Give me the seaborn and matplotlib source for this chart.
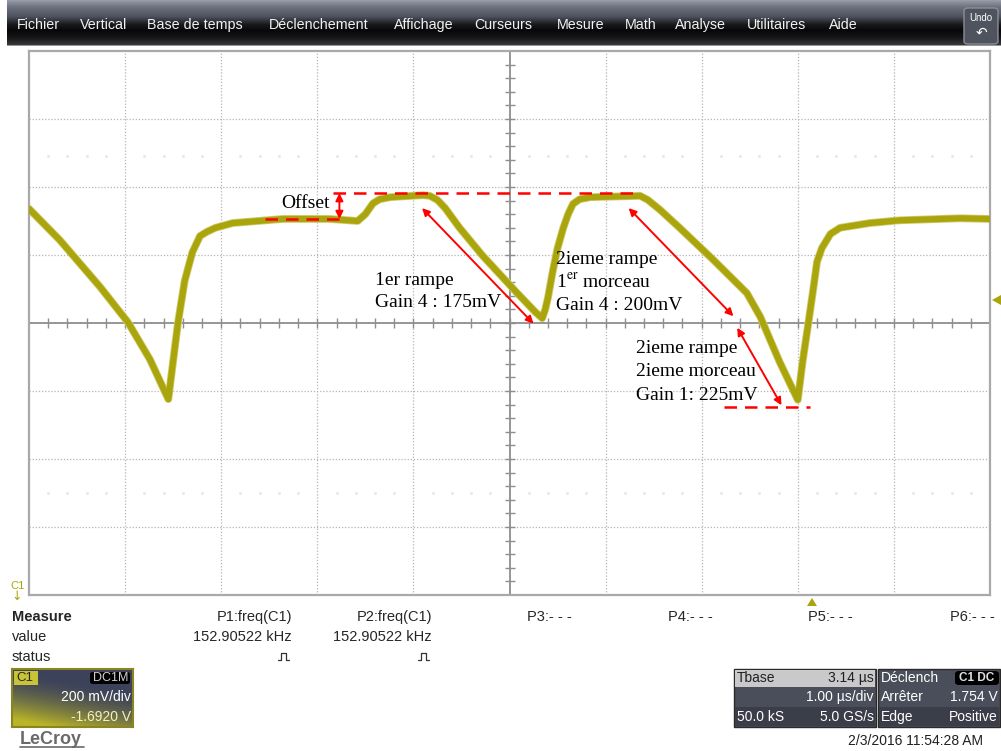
import numpy as np
import seaborn as sns
import matplotlib.pyplot as plt
from matplotlib.patches import Rectangle, FancyBboxPatch, Polygon

sns.set_style('white')
plt.rcParams['font.family'] = ['Liberation Sans', 'DejaVu Sans']
plt.rcParams['mathtext.fontset'] = 'stix'

W, H = 1001, 751

# C1 trace, in divisions (x: 0..10 div, y: -4..4 div)
t_div = [0.00, 0.32, 0.74, 1.03, 1.26, 1.45, 1.55, 1.62, 1.70, 1.78, 1.85, 1.94, 2.12,
         2.64, 3.13, 3.42, 3.50, 3.58, 3.65, 3.76, 4.10, 4.17, 4.25, 4.33, 4.48, 4.72,
         5.08, 5.27, 5.34, 5.37, 5.40, 5.45, 5.50, 5.56, 5.61, 5.66, 5.73, 5.84, 6.36,
         6.44, 6.57, 6.77, 7.12, 7.47, 7.61, 7.81, 8.00, 8.05, 8.11, 8.16, 8.20, 8.25,
         8.34, 8.44, 8.75, 9.06, 9.69, 10.0]
v_div = [1.68, 1.22, 0.53, 0.01, -0.54, -1.12, 0.00, 0.62, 1.04, 1.28, 1.34, 1.40, 1.47,
         1.53, 1.53, 1.50, 1.60, 1.76, 1.82, 1.85, 1.88, 1.87, 1.81, 1.69, 1.40, 0.99,
         0.44, 0.16, 0.07, 0.19, 0.37, 0.76, 1.10, 1.40, 1.60, 1.75, 1.82, 1.85, 1.87,
         1.81, 1.66, 1.40, 0.93, 0.44, 0.09, -0.57, -1.13, -0.57, 0.00, 0.49, 0.90, 1.10,
         1.31, 1.40, 1.47, 1.51, 1.54, 1.53]

menu_items = ['Fichier', 'Vertical', 'Base de temps', 'Déclenchement', 'Affichage',
              'Curseurs', 'Mesure', 'Math', 'Analyse', 'Utilitaires', 'Aide']
param_names = ['P1:freq(C1)', 'P2:freq(C1)', 'P3:- - -', 'P4:- - -', 'P5:- - -', 'P6:- - -']
param_values = ['152.90522 kHz', '152.90522 kHz']

# annotation levels (divisions)
offset_low, offset_high, min_level = 1.53, 1.91, -1.24

trace_col = '#aaa50c'
red = '#ff0000'


def fx(x):
    return x / W


def fy(y):
    return 1 - y / H


fig = plt.figure(figsize=(W / 100, H / 100), dpi=100)
fig.patch.set_facecolor('white')

# ---- menu bar
bar = fig.add_axes([fx(7), fy(46), 1 - fx(7), 46 / H])
rows = np.arange(46)
kr = [0, 6, 16, 24, 30, 38, 44, 45]
kc = np.array([[150, 155, 165], [110, 116, 130], [78, 82, 94], [25, 25, 28],
               [8, 8, 9], [25, 25, 27], [55, 55, 58], [150, 150, 150]]) / 255
grad = np.stack([np.interp(rows, kr, kc[:, c]) for c in range(3)], axis=1)
bar.imshow(grad[:, None, :], aspect='auto', extent=(0, 1, 0, 1))
bar.set_axis_off()
menu_x = [17, 80, 147, 269, 394, 474, 557, 625, 675, 747, 829]
for name, x in zip(menu_items, menu_x):
    fig.text(fx(x), fy(25), name, color='#f2f2f2', fontsize=10.3, va='center', ha='left')
fig.patches.append(FancyBboxPatch((fx(964), fy(44)), 34 / W, 36 / H,
                                  boxstyle='round,pad=0,rounding_size=0.004',
                                  transform=fig.transFigure, fc='#4e535e', ec='#8a8f98', lw=1))
fig.text(fx(981), fy(18), 'Undo', color='white', fontsize=7, ha='center', va='center')
fig.text(fx(981), fy(33), '↶', color='white', fontsize=10, ha='center', va='center',
         family='DejaVu Sans')

# ---- scope grid
ax = fig.add_axes([fx(29), fy(595), 961 / W, 544 / H])
ax.set_xlim(0, 10)
ax.set_ylim(-4, 4)
ax.set_xticks([])
ax.set_yticks([])
for s in ax.spines.values():
    s.set_color('#a9a9a9')
    s.set_linewidth(1.6)
for i in range(1, 10):
    if i != 5:
        ax.axvline(i, color='#b5b5b5', ls=(0, (1, 1.5)), lw=0.9, zorder=1)
for j in range(-3, 4):
    if j != 0:
        ax.axhline(j, color='#b5b5b5', ls=(0, (1, 1.5)), lw=0.9, zorder=1)
ax.axhline(0, color='#8e8e8e', lw=1.3, zorder=1)
ax.axvline(5, color='#8e8e8e', lw=1.3, zorder=1)
minor_x = np.arange(0.2, 10, 0.2)
minor_y = np.arange(-3.8, 4, 0.2)
ax.plot(minor_x, np.zeros_like(minor_x), ls='none', marker='|', ms=7, mew=1,
        color='#8e8e8e', zorder=1)
ax.plot(np.full_like(minor_y, 5), minor_y, ls='none', marker='_', ms=7, mew=1,
        color='#8e8e8e', zorder=1)
faint_x = np.array([v for v in minor_x if abs(v - round(v)) > 0.05])
for yy in (2.45, -2.5):
    ax.plot(faint_x, np.full_like(faint_x, yy), ls='none', marker='.', ms=2,
            color='#e6e6e6', zorder=1)

# trace
sns.lineplot(x=t_div, y=v_div, ax=ax, color='#cfcc70', lw=5.6, sort=False,
             estimator=None, zorder=2)
sns.lineplot(x=t_div, y=v_div, ax=ax, color=trace_col, lw=4.4, sort=False,
             estimator=None, zorder=3)

# red annotations
dash = (0, (5, 3.2))
ax.plot([2.46, 3.29], [offset_low, offset_low], color=red, lw=1.8, ls=dash, zorder=4)
ax.plot([3.16, 6.32], [offset_high, offset_high], color=red, lw=1.8, ls=dash, zorder=4)
ax.plot([7.23, 8.13], [min_level, min_level], color=red, lw=1.8, ls=dash, zorder=4)
arrow = dict(arrowstyle='<|-|>', color=red, lw=1.4, mutation_scale=11,
             shrinkA=0, shrinkB=0)
ax.annotate('', xy=(3.23, offset_low), xytext=(3.23, offset_high), arrowprops=arrow)
ax.annotate('', xy=(5.25, -0.01), xytext=(4.09, 1.69), arrowprops=arrow)
ax.annotate('', xy=(7.33, 0.10), xytext=(6.24, 1.69), arrowprops=arrow)
ax.annotate('', xy=(7.83, -1.21), xytext=(7.37, -0.07), arrowprops=arrow)

serif = dict(family='Liberation Serif', fontsize=14, color='black', va='center',
             ha='left', zorder=5)
ax.text(2.62, 1.75, 'Offset', **serif)
ax.text(3.60, 0.63, '1er rampe', **serif)
ax.text(3.60, 0.30, 'Gain 4 : 175mV', **serif)
ax.text(5.48, 0.93, '2ieme rampe', **serif)
ax.text(5.48, 0.60, r'1$^{\mathrm{er}}$ morceau', **serif)
ax.text(5.48, 0.26, 'Gain 4 : 200mV', **serif)
ax.text(6.32, -0.38, '2ieme rampe', **serif)
ax.text(6.32, -0.72, '2ieme morceau', **serif)
ax.text(6.32, -1.06, 'Gain 1: 225mV', **serif)

# markers around grid
fig.patches.append(Polygon([(fx(807), fy(606)), (fx(817), fy(606)), (fx(812), fy(598))],
                           closed=True, transform=fig.transFigure, fc=trace_col, ec='none'))
fig.patches.append(Polygon([(fx(992), fy(300)), (fx(1001), fy(295)), (fx(1001), fy(305))],
                           closed=True, transform=fig.transFigure, fc=trace_col, ec='none'))
fig.text(fx(10), fy(586), 'C1', color=trace_col, fontsize=8, va='center')
fig.text(fx(11), fy(597), '↓', color=trace_col, fontsize=9, va='center',
         family='DejaVu Sans')

# ---- measure table
fs = 10.5
fig.text(fx(12), fy(617), 'Measure', fontsize=fs, weight='bold', va='center')
fig.text(fx(12), fy(637), 'value', fontsize=fs, va='center')
fig.text(fx(12), fy(657), 'status', fontsize=fs, va='center')
p_right = [292, 432]
p_left = [527, 668, 808, 950]
for name, x in zip(param_names[:2], p_right):
    fig.text(fx(x), fy(617), name, fontsize=fs, ha='right', va='center')
for val, x in zip(param_values, p_right):
    fig.text(fx(x), fy(637), val, fontsize=fs, ha='right', va='center')
    px = np.array([x - 14, x - 11, x - 11, x - 6, x - 6, x - 3])
    py = np.array([660, 660, 653, 653, 660, 660])
    fig.lines.append(plt.Line2D(fx(px), fy(py), color='#333333', lw=0.9,
                                transform=fig.transFigure))
for name, x in zip(param_names[2:], p_left):
    fig.text(fx(x), fy(617), name, fontsize=fs, ha='left', va='center')

# ---- C1 channel box
cbox = fig.add_axes([fx(12), fy(727), 121 / W, 58 / H])
u, v = np.meshgrid(np.linspace(0, 1, 60), np.linspace(0, 1, 30))
tt = np.clip(1.15 * v - 0.45 * u, 0, 1) ** 1.6
top = np.array([60, 66, 90]) / 255
bot = np.array([185, 180, 40]) / 255
cimg = top[None, None, :] * (1 - tt[..., None]) + bot[None, None, :] * tt[..., None]
cbox.imshow(cimg, aspect='auto', extent=(0, 1, 0, 1))
cbox.set_xticks([])
cbox.set_yticks([])
for s in cbox.spines.values():
    s.set_color('#8a8520')
    s.set_linewidth(1.5)
fig.patches.append(Rectangle((fx(14), fy(685)), 24 / W, 14 / H, transform=fig.transFigure,
                             fc='#c8c43a', ec='none'))
fig.text(fx(16), fy(678), 'C1', fontsize=9.5, color='#2a2a10', va='center')
fig.patches.append(FancyBboxPatch((fx(90), fy(684)), 40 / W, 12 / H,
                                  boxstyle='round,pad=0,rounding_size=0.003',
                                  transform=fig.transFigure, fc='black', ec='none'))
fig.text(fx(128), fy(678), 'DC1M', fontsize=9, color='#d0d0d0', ha='right', va='center')
fig.text(fx(131), fy(697), '200 mV/div', fontsize=10, color='white', ha='right', va='center')
fig.text(fx(131), fy(717), '-1.6920 V', fontsize=10, color='#f4f0c0', ha='right', va='center')

fig.text(fx(20), fy(739), 'LeCroy', fontsize=13, color='#6a6a6a', weight='bold',
         va='center')
fig.lines.append(plt.Line2D([fx(20), fx(84)], [fy(747), fy(747)], color='#6a6a6a', lw=1.2,
                            transform=fig.transFigure))

# ---- timebase and trigger boxes
fig.patches.append(Rectangle((fx(734), fy(727)), 142 / W, 58 / H, transform=fig.transFigure,
                             fc='#4a4e5a', ec='#2a2a2a', lw=1))
fig.patches.append(Rectangle((fx(735), fy(687)), 140 / W, 17 / H, transform=fig.transFigure,
                             fc='#c9c9c9', ec='none'))
fig.patches.append(Rectangle((fx(735), fy(726)), 140 / W, 19 / H, transform=fig.transFigure,
                             fc='#3b3e48', ec='none'))
fig.patches.append(Rectangle((fx(878), fy(727)), 122 / W, 58 / H, transform=fig.transFigure,
                             fc='#4a4e5a', ec='#2a2a2a', lw=1))
fig.patches.append(Rectangle((fx(879), fy(726)), 120 / W, 19 / H, transform=fig.transFigure,
                             fc='#3b3e48', ec='none'))
tb = dict(fontsize=10, va='center')
fig.text(fx(737), fy(678), 'Tbase', color='#202020', ha='left', **tb)
fig.text(fx(874), fy(678), '3.14 µs', color='#202020', ha='right', **tb)
fig.text(fx(874), fy(697), '1.00 µs/div', color='white', ha='right', **tb)
fig.text(fx(737), fy(717), '50.0 kS', color='white', ha='left', **tb)
fig.text(fx(874), fy(717), '5.0 GS/s', color='white', ha='right', **tb)
fig.text(fx(881), fy(678), 'Déclench', color='white', ha='left', **tb)
fig.patches.append(FancyBboxPatch((fx(955), fy(685)), 44 / W, 14 / H,
                                  boxstyle='round,pad=0,rounding_size=0.004',
                                  transform=fig.transFigure, fc='black', ec='none'))
fig.text(fx(977), fy(678), 'C1 DC', color='#e0e0e0', ha='center', fontsize=8.5,
         va='center', weight='bold')
fig.text(fx(881), fy(697), 'Arrêter', color='white', ha='left', **tb)
fig.text(fx(998), fy(697), '1.754 V', color='white', ha='right', **tb)
fig.text(fx(881), fy(717), 'Edge', color='white', ha='left', **tb)
fig.text(fx(998), fy(717), 'Positive', color='white', ha='right', **tb)

fig.text(fx(983), fy(741), '2/3/2016 11:54:28 AM', fontsize=10, color='#202020',
         ha='right', va='center')

fig.savefig('out.png', dpi=100)
